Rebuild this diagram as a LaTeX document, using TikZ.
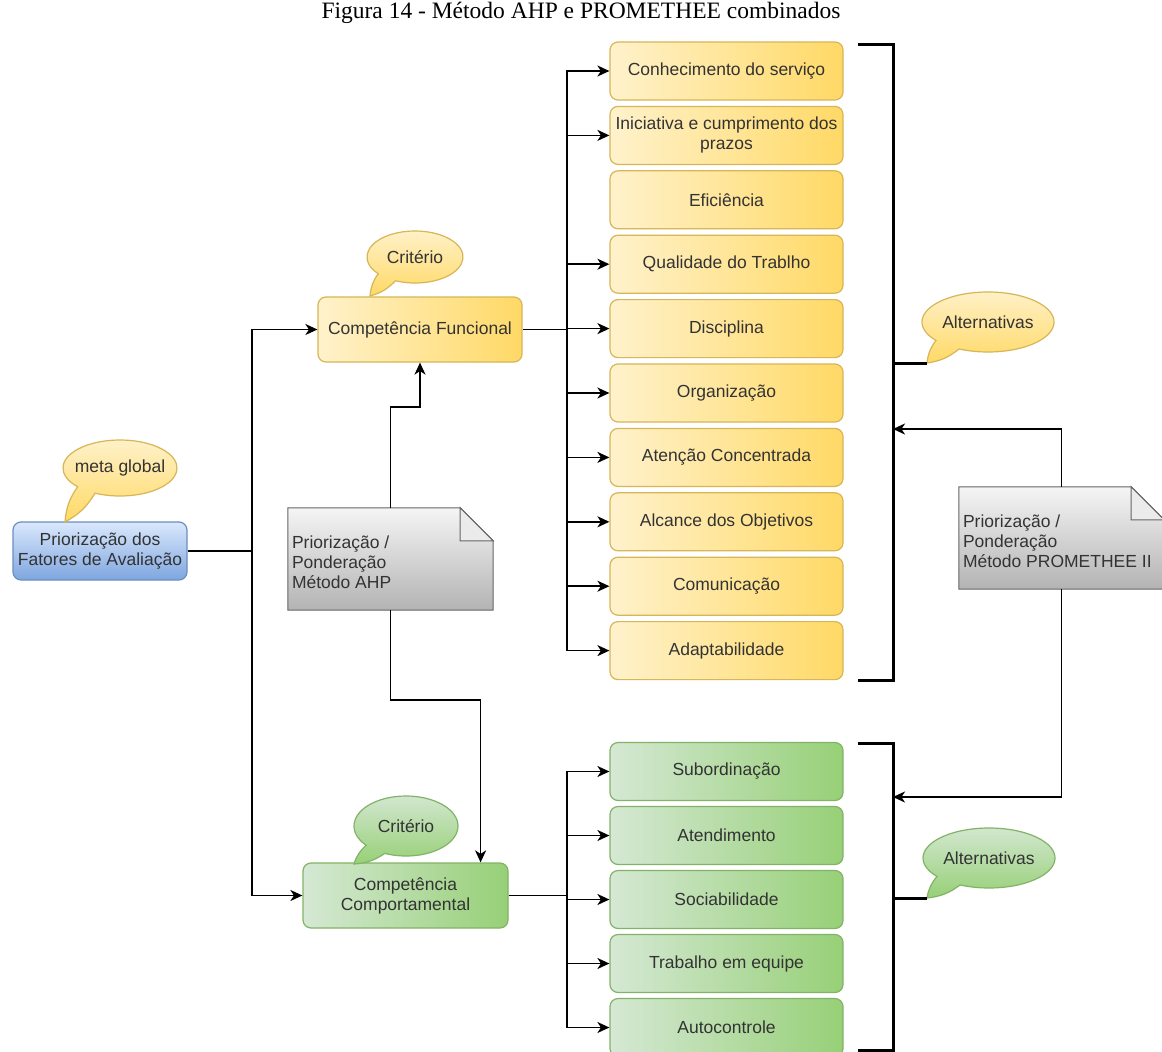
\documentclass[tikz,border=0pt]{standalone}
\usepackage{fontspec}
\setmainfont{Liberation Sans}
\newfontfamily\titlefont{Liberation Serif}
\usetikzlibrary{arrows.meta,calc}
\pgfdeclarelayer{bg}
\pgfsetlayers{bg,main}

\definecolor{txt}{HTML}{333333}
\definecolor{yl}{HTML}{FFF2CC}
\definecolor{yr}{HTML}{FFD966}
\definecolor{ybd}{HTML}{D6B656}
\definecolor{gl}{HTML}{D5E8D4}
\definecolor{gr}{HTML}{97D077}
\definecolor{gbd}{HTML}{82B366}
\definecolor{bt}{HTML}{DAE8FC}
\definecolor{bb}{HTML}{7EA6E0}
\definecolor{bbd}{HTML}{6C8EBF}
\definecolor{nt}{HTML}{F5F5F5}
\definecolor{nb}{HTML}{B3B3B3}
\definecolor{nbd}{HTML}{666666}
\definecolor{nf}{HTML}{EBEBEB}

% speech bubble: name, centre, x radius, y radius, start angle, end angle, tail tip, style, text
\newcommand\bubble[9]{%
  \path[#8] (#2) ++(#5:#3 and #4) coordinate (#1-a)
    arc[start angle=#5, end angle=#6+360, x radius=#3, y radius=#4]
    to[bend left=15] (#7) to[bend left=15] (#1-a) -- cycle;
  \node (#1) at (#2) {#9};}

% folded note: name, centre, text
\newcommand\foldnote[3]{%
  \path node[minimum width=205pt, minimum height=102pt, inner sep=0pt] (#1) at (#2) {};
  \shade[top color=nt, bottom color=nb, draw=nbd, line width=1pt]
    (#1.north west) -- ($(#1.north east)+(-33,0)$) -- ($(#1.north east)+(0,33)$)
    -- (#1.south east) -- (#1.south west) -- cycle;
  \filldraw[fill=nf, draw=nbd, line width=1pt]
    ($(#1.north east)+(-33,0)$) -- ($(#1.north east)+(-33,33)$) -- ($(#1.north east)+(0,33)$) -- cycle;
  \node[anchor=west, align=left, inner sep=4pt, font=\fontsize{17.5}{20}\selectfont]
    (#1-text) at ($(#1.west)+(0,3)$) {#3};}

\begin{document}
\begin{tikzpicture}[x=1pt, y=-1pt,
  every node/.style={text=txt},
  font=\fontsize{17.5}{20}\selectfont,
  ln/.style={line width=1.7pt, draw=black},
  arr/.style={ln, -{Stealth[length=12pt, width=11pt, inset=3.5pt]}},
  arrsmall/.style={line width=1pt, -{Stealth[length=6pt, width=5pt, inset=2pt]}},
  bracket/.style={line width=3pt, line join=miter},
  ybox/.style={rounded corners=8pt, draw=ybd, line width=1.2pt, left color=yl, right color=yr,
    minimum width=233pt, minimum height=58pt, align=center, inner sep=0pt},
  gbox/.style={ybox, draw=gbd, left color=gl, right color=gr},
  ybub/.style={draw=ybd, line width=1.2pt, top color=yl, bottom color=yr},
  gbub/.style={draw=gbd, line width=1.2pt, top color=gl, bottom color=gr},
]
\useasboundingbox (0,0) rectangle (1162,1052);
\fill[white] (0,0) rectangle (1162,1052);
\clip (0,0) rectangle (1162,1052);

\node[font=\titlefont\fontsize{23.5}{28}\selectfont, text=black] (title) at (581,13)
  {Figura 14 - Método AHP e PROMETHEE combinados};

% goal
\node[rounded corners=8pt, draw=bbd, line width=1.2pt, top color=bt, bottom color=bb,
  minimum width=174pt, minimum height=58pt, align=center, inner sep=0pt] (goal) at (100,551)
  {Priorização dos\\Fatores de Avaliação};

% criteria
\node[ybox, minimum width=204pt, minimum height=65pt] (cf) at (420,329.5) {Competência Funcional};
\node[gbox, minimum width=205pt, minimum height=65pt] (cc) at (405.5,895.5) {Competência\\Comportamental};

% functional alternatives
\node[ybox] (f1)  at (726.5,71)    {Conhecimento do serviço};
\node[ybox] (f2)  at (726.5,135.4) {Iniciativa e cumprimento dos\\prazos};
\node[ybox] (f3)  at (726.5,199.8) {Eficiência};
\node[ybox] (f4)  at (726.5,264.2) {Qualidade do Trablho};
\node[ybox] (f5)  at (726.5,328.6) {Disciplina};
\node[ybox] (f6)  at (726.5,393)   {Organização};
\node[ybox] (f7)  at (726.5,457.4) {Atenção Concentrada};
\node[ybox] (f8)  at (726.5,521.8) {Alcance dos Objetivos};
\node[ybox] (f9)  at (726.5,586.2) {Comunicação};
\node[ybox] (f10) at (726.5,650.6) {Adaptabilidade};

% behavioural alternatives
\node[gbox] (g1) at (726.5,771.5)  {Subordinação};
\node[gbox] (g2) at (726.5,835.5)  {Atendimento};
\node[gbox] (g3) at (726.5,899.5)  {Sociabilidade};
\node[gbox] (g4) at (726.5,963.5)  {Trabalho em equipe};
\node[gbox] (g5) at (726.5,1027.5) {Autocontrole};

% tail tips of the speech bubbles
\coordinate (tipGoal) at (65,522);
\coordinate (tipCF) at (370,296);
\coordinate (tipCC) at (354,864);
\coordinate (tipAY) at (927,363);
\coordinate (tipAG) at (927,898);

\bubble{bGoal}{120,468}{57}{28}{138}{116}{tipGoal}{ybub}{meta global}
\bubble{bCF}{415,257}{48}{26}{140}{114}{tipCF}{ybub}{Critério}
\bubble{bCC}{406,826}{52}{30}{140}{114}{tipCC}{gbub}{Critério}
\bubble{bAY}{988,322}{66}{30}{142}{116}{tipAY}{ybub}{Alternativas}
\bubble{bAG}{989,858}{66}{30}{142}{116}{tipAG}{gbub}{Alternativas}

% weighting notes
\foldnote{ahp}{390.5,559}{Priorização /\\Ponderação\\Método AHP}
\foldnote{prom}{1061.5,538}{Priorização /\\Ponderação\\Método PROMETHEE II}

% junction points
\coordinate (jl) at (252,551);
\coordinate (tx) at (567,0);
\coordinate (jf) at (cf.east -| tx);
\coordinate (jc) at (cc.east -| tx);
\coordinate (bx) at (893,0);

% goal to criteria
\draw[ln] (goal.east) -- (jl);
\draw[arr] (jl) |- (cf.west);
\draw[arr] (jl) |- (cc.west);

% functional criterion to alternatives
\draw[ln] (cf.east) -- (jf);
\foreach \n in {f1,f2,f4,f5,f6,f7,f8,f9,f10}
  \draw[arr] (jf) |- (\n.west);
\begin{pgfonlayer}{bg}
  \draw[arrsmall] (f5.north) -- (f3.south);
\end{pgfonlayer}

% behavioural criterion to alternatives
\draw[ln] (cc.east) -- (jc);
\foreach \n in {g1,g2,g3,g4,g5}
  \draw[arr] (jc) |- (\n.west);

% AHP weighting
\draw[arr] (ahp.north) -- ++(0,-101) -| (cf.south);
\coordinate (ccin) at ($(cc.north east)+(-28,0)$);
\draw[arr] (ahp.south) -- ++(0,90) -| (ccin);

% alternative groups
\draw[bracket] (858,44) -- (893,44) -- (893,680) -- (858,680);
\draw[bracket] (858,743) -- (893,743) -- (893,1050) -- (858,1050);
\draw[bracket] (tipAY -| bx) -- (tipAY);
\draw[bracket] (tipAG -| bx) -- (tipAG);

% PROMETHEE weighting
\coordinate (pin1) at (893,429);
\coordinate (pin2) at (893,797);
\draw[arr] (prom.north) |- (pin1);
\draw[arr] (prom.south) |- (pin2);
\end{tikzpicture}
\end{document}
